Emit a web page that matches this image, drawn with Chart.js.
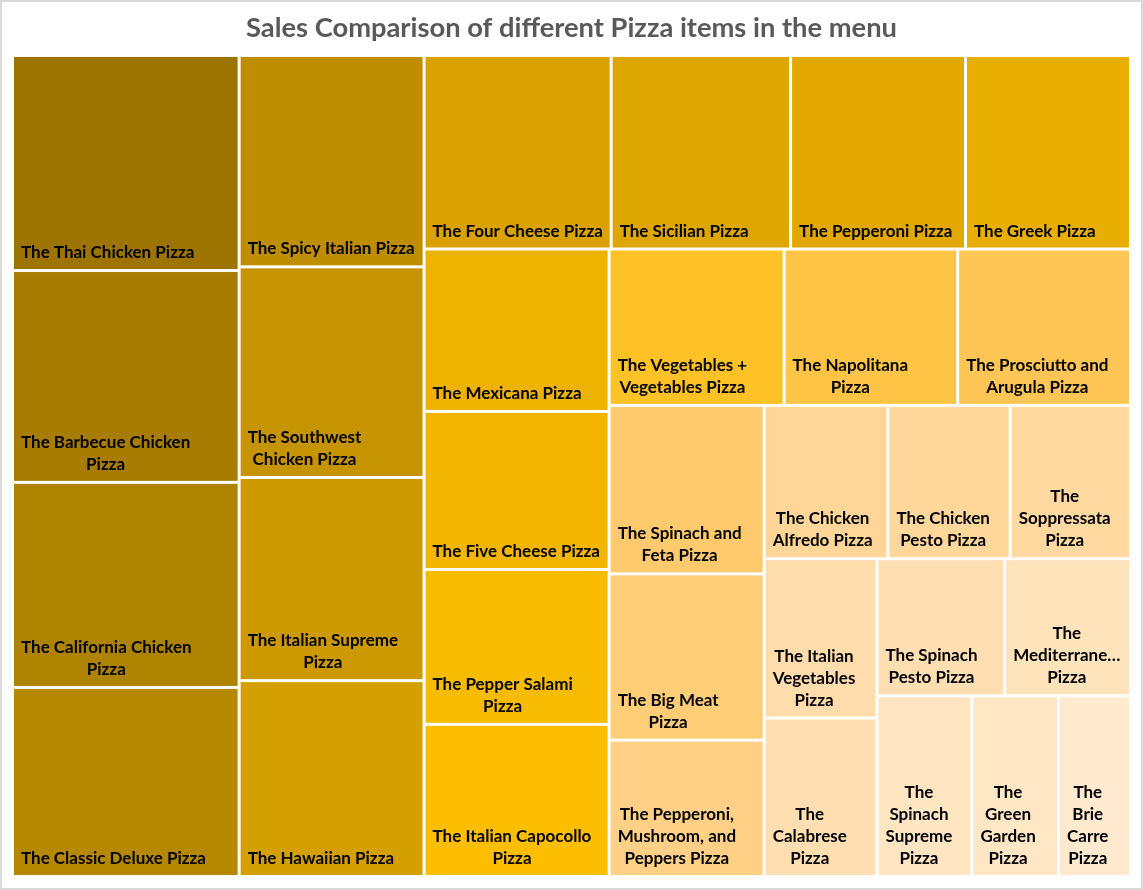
<!DOCTYPE html>
<html>
<head>
<meta charset="utf-8">
<script src="https://cdn.jsdelivr.net/npm/chart.js@4.4.1/dist/chart.umd.min.js"></script>
<style>
  html, body { margin: 0; padding: 0; background: #ffffff; }
  #wrap { width: 1143px; height: 890px; position: relative; }
</style>
</head>
<body>
<div id="wrap"><canvas id="chart"></canvas></div>
<script>
// ---------------- DATA ----------------
const chartTitle = 'Sales Comparison of different Pizza items in the menu';

const pizzaNames = [
  'The Thai Chicken Pizza',
  'The Barbecue Chicken Pizza',
  'The California Chicken Pizza',
  'The Classic Deluxe Pizza',
  'The Spicy Italian Pizza',
  'The Southwest Chicken Pizza',
  'The Italian Supreme Pizza',
  'The Hawaiian Pizza',
  'The Four Cheese Pizza',
  'The Sicilian Pizza',
  'The Pepperoni Pizza',
  'The Greek Pizza',
  'The Mexicana Pizza',
  'The Five Cheese Pizza',
  'The Pepper Salami Pizza',
  'The Italian Capocollo Pizza',
  'The Vegetables + Vegetables Pizza',
  'The Napolitana Pizza',
  'The Prosciutto and Arugula Pizza',
  'The Spinach and Feta Pizza',
  'The Big Meat Pizza',
  'The Pepperoni, Mushroom, and Peppers Pizza',
  'The Chicken Alfredo Pizza',
  'The Chicken Pesto Pizza',
  'The Soppressata Pizza',
  'The Italian Vegetables Pizza',
  'The Calabrese Pizza',
  'The Spinach Pesto Pizza',
  'The Mediterranean Pizza',
  'The Spinach Supreme Pizza',
  'The Green Garden Pizza',
  'The Brie Carre Pizza'
];

const salesValues = [
  43434, 42768, 41410, 38180,
  34831, 34706, 33477, 32273,
  32266, 30941, 30162, 28454,
  26781, 26067, 25529, 25094,
  24375, 24193, 24087,
  23271, 22968, 18835,
  16900, 16702, 16426,
  16019, 15934,
  15596, 15361,
  15278, 13956, 11589
];

const cellColors = [
  '#9e7400', '#a77c00', '#ae8300', '#b58800',
  '#bf8e00', '#c69400', '#cc9a00', '#d49f00',
  '#d9a200', '#dea600', '#e2a800', '#e8ae00',
  '#eeb200', '#f2b600', '#f7bb00', '#fdbe00',
  '#ffc226', '#ffc446', '#ffc656',
  '#ffca6e', '#ffcd76', '#ffd085',
  '#ffd697', '#ffd79b', '#ffd99f',
  '#ffdcab', '#ffdfb1',
  '#ffdfb2', '#ffe3ba',
  '#ffe5c2', '#ffe7c6', '#ffeacf'
];

// ---------------- LAYOUT (squarified treemap) ----------------
function worstRatio(row, side) {
  const s = row.reduce((a, b) => a + b, 0);
  let m = 0;
  for (const r of row) {
    const a = side * side * r / (s * s);
    m = Math.max(m, a, 1 / a);
  }
  return m;
}

function squarify(values, W, H) {
  const total = values.reduce((a, b) => a + b, 0);
  const k = W * H / total;
  const areas = values.map(v => v * k);
  const rects = [];
  let x = 0, y = 0, w = W, h = H, i = 0;
  while (i < areas.length) {
    const remaining = areas.length - i;
    let row, alongWidth;
    if (remaining <= 3) {
      row = areas.slice(i);
      alongWidth = w >= h;
    } else {
      const side = Math.min(w, h);
      alongWidth = w < h;
      row = [areas[i]];
      while (i + row.length < areas.length) {
        const cand = row.concat([areas[i + row.length]]);
        if (worstRatio(cand, side) <= worstRatio(row, side)) row = cand; else break;
      }
    }
    const s = row.reduce((a, b) => a + b, 0);
    if (alongWidth) {
      const rh = s / w;
      let cx = x;
      row.forEach(a => { const rw = a / rh; rects.push({ x: cx, y: y, w: rw, h: rh }); cx += rw; });
      y += rh; h -= rh;
    } else {
      const cw = s / h;
      let cy = y;
      row.forEach(a => { const ch = a / cw; rects.push({ x: x, y: cy, w: cw, h: ch }); cy += ch; });
      x += cw; w -= cw;
    }
    i += row.length;
  }
  return rects;
}

// ---------------- LABEL WRAPPING ----------------
function fitWord(ctx, word, maxW) {
  if (ctx.measureText(word).width <= maxW) return word;
  let s = word;
  while (s.length > 1 && ctx.measureText(s + '…').width > maxW) s = s.slice(0, -1);
  return s + '…';
}

function wrapLabel(ctx, text, maxW) {
  const words = text.split(' ');
  const lines = [];
  let cur = '';
  for (const wd of words) {
    const test = cur ? cur + ' ' + wd : wd;
    if (ctx.measureText(test).width <= maxW) {
      cur = test;
    } else {
      if (cur) lines.push(cur);
      if (ctx.measureText(wd).width > maxW) {
        lines.push(fitWord(ctx, wd, maxW));
        cur = '';
      } else {
        cur = wd;
      }
    }
  }
  if (cur) lines.push(cur);
  return lines;
}

const LABEL_FONT = 'bold 17px Lato';
const LINE_H = 22;

const treemapPlugin = {
  id: 'treemapCells',
  beforeDraw(chart) {
    const { ctx, width, height } = chart;
    ctx.save();
    ctx.fillStyle = '#ffffff';
    ctx.fillRect(0, 0, width, height);
    ctx.strokeStyle = '#d9d9d9';
    ctx.lineWidth = 2;
    ctx.strokeRect(1, 1, width - 2, height - 2);
    ctx.restore();
  },
  beforeDatasetsDraw(chart) {
    const ctx = chart.ctx;
    const xs = chart.scales.x, ys = chart.scales.y, ca = chart.chartArea;
    const ds = chart.data.datasets[0];
    const labels = chart.data.labels;
    const aspect = (ca.right - ca.left) / (ca.bottom - ca.top);
    const rects = squarify(ds.data, aspect, 1);
    const g = 1.5;
    ctx.save();
    rects.forEach((r, i) => {
      const x0 = xs.getPixelForValue(r.x / aspect);
      const x1 = xs.getPixelForValue((r.x + r.w) / aspect);
      const y0 = ys.getPixelForValue(r.y);
      const y1 = ys.getPixelForValue(r.y + r.h);
      ctx.fillStyle = ds.backgroundColor[i];
      ctx.fillRect(x0 + g, y0 + g, (x1 - x0) - 2 * g, (y1 - y0) - 2 * g);

      ctx.font = LABEL_FONT;
      const cellW = (x1 - x0) - 2 * g;
      const avail = cellW - 13.4;
      const lines = wrapLabel(ctx, labels[i], avail);
      const blockW = Math.max(...lines.map(l => ctx.measureText(l).width));
      const left = x0 + g + 7;
      const cx = left + blockW / 2;
      const lastBase = y1 - g - 11;
      ctx.fillStyle = '#000000';
      ctx.textAlign = 'center';
      ctx.textBaseline = 'alphabetic';
      lines.forEach((ln, j) => {
        ctx.fillText(ln, cx, lastBase - (lines.length - 1 - j) * LINE_H);
      });
    });
    ctx.restore();
    return false;
  }
};

new Chart(document.getElementById('chart'), {
  type: 'bar',
  data: {
    labels: pizzaNames,
    datasets: [{ label: 'Sales', data: salesValues, backgroundColor: cellColors }]
  },
  options: {
    responsive: true,
    maintainAspectRatio: false,
    animation: false,
    events: [],
    layout: { padding: { left: 12.5, right: 12.5, top: 0, bottom: 13.5 } },
    scales: {
      x: { type: 'linear', min: 0, max: 1, offset: false, display: false },
      y: { type: 'linear', min: 0, max: 1, reverse: true, offset: false, display: false }
    },
    plugins: {
      legend: { display: false },
      tooltip: { enabled: false },
      title: {
        display: true,
        text: chartTitle,
        color: '#595959',
        font: { family: 'Lato', size: 27.3, weight: 'bold' },
        padding: { top: 12.3, bottom: 10.4 }
      }
    }
  },
  plugins: [treemapPlugin]
});
</script>
</body>
</html>
